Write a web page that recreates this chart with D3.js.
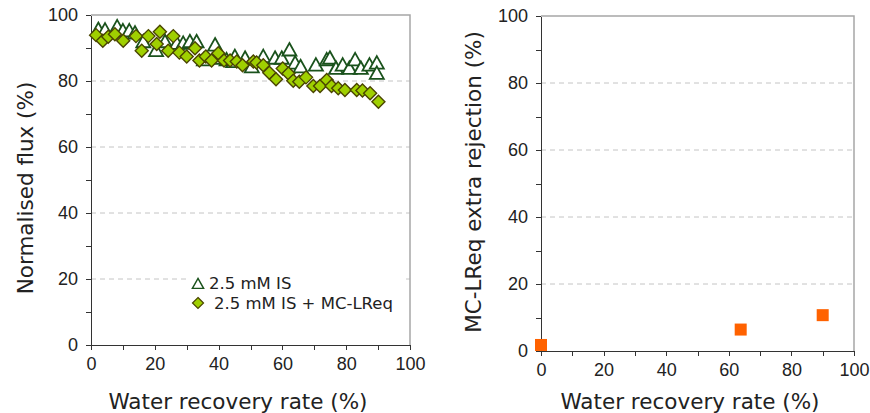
<!DOCTYPE html>
<html lang="en">
<head>
<meta charset="UTF-8">
<title>Normalised flux and extra rejection</title>
<script src="https://d3js.org/d3.v7.min.js"></script>
<style>
    body { margin: 0; background: #fff; }
    svg { display: block; font-family: "DejaVu Sans", Verdana, sans-serif; }
    .tick text { font-size: 18px; fill: #222; }
    .axis path, .axis line { stroke: #333; shape-rendering: crispEdges; }
</style>
</head>
<body>
<svg id="chart" width="870" height="413"></svg>
<script>
// 2.5 mM IS (open triangles)
const isX = [2.3, 4.4, 8.2, 10, 12, 13.8, 16.4, 20.4, 23.2, 26.9, 28.9, 31, 33.1, 35.4, 38.9, 40.4, 42.5, 44.6,
             45.1, 48.3, 50.4, 54, 57.7, 59.8, 62.2, 64, 65.7, 70.5, 73.9, 74.9, 76.8, 78.9, 81, 82.8, 84.6, 87.3, 89.6, 89.6];
const isY = [95.6, 95.4, 96.4, 95.2, 95.2, 94.5, 91.9, 89.2, 91.9, 91.4, 91.4, 91.9, 91.9, 86.4, 90.9, 86.9, 86.4, 85.9,
             87.4, 86.9, 84.3, 87.4, 86.9, 86.9, 89.4, 85.4, 84.3, 84.8, 86.4, 86.9, 83.8, 84.8, 83.8, 86.4, 83.8, 84.8, 85.4, 82.3];

// 2.5 mM IS + MC-LReq (diamonds)
const mcX = [1.6, 3.7, 5.4, 7.5, 10.1, 14.1, 15.9, 18, 20.6, 21.6, 24.2, 25.8, 27.7, 30, 32.6, 34, 36, 37.8, 39.9, 41.7, 43.6, 45.7,
             47.5, 50.9, 51.9, 54, 55.9, 58, 60.1, 61.9, 63.4, 65.3, 67.4, 69.7, 71.8, 73.9, 75.4, 77.5, 79.6, 83.3, 85.1, 87.5, 90.1];
const mcY = [93.9, 92.2, 93.4, 94.2, 92.2, 93.6, 89.2, 93.6, 91.2, 94.9, 89.2, 93.6, 88.6, 87.4, 89.9, 86.2, 87.4, 86.2, 88.4, 86.2, 86.2, 85.9,
             84.8, 85.9, 85.6, 84.8, 82.5, 80.5, 83.8, 82.3, 80.1, 79.8, 81.1, 78.5, 78.5, 80.3, 78.5, 77.8, 77.3, 77.3, 77.1, 76.3, 73.7];

// MC-LReq extra rejection (squares)
const rejX = [0, 63.8, 90];
const rejY = [1.8, 6.4, 10.7];

const tickVals = d3.range(0, 101, 10);
const gridVals = [20, 40, 60, 80];

const svg = d3.select("#chart");

function panel(x, y, xTitlePos, yTitlePos, yTitle) {
    const g = svg.append("g");
    const [x0, x1] = x.range();
    const [y0, y1] = y.range();

    // dashed gridlines
    g.selectAll(".grid").data(gridVals).enter().append("line")
        .attr("x1", x0).attr("x2", x1)
        .attr("y1", d => y(d)).attr("y2", d => y(d))
        .style("stroke", "#c4c4c4")
        .style("stroke-dasharray", "5,4");

    // light frame on top and right
    g.append("path")
        .attr("d", `M${x0},${y1}H${x1}V${y0}`)
        .style("fill", "none")
        .style("stroke", "#a6a6a6")
        .style("stroke-width", 1.5);

    const fmt = d => d % 20 === 0 ? d : "";

    g.append("g")
        .attr("class", "axis")
        .attr("transform", `translate(0,${y0})`)
        .call(d3.axisBottom(x).tickValues(tickVals).tickSize(5).tickSizeOuter(0).tickPadding(7).tickFormat(fmt));

    g.append("g")
        .attr("class", "axis")
        .attr("transform", `translate(${x0},0)`)
        .call(d3.axisLeft(y).tickValues(tickVals).tickSize(5).tickSizeOuter(0).tickPadding(8).tickFormat(fmt));

    g.append("text")
        .attr("x", xTitlePos[0]).attr("y", xTitlePos[1])
        .attr("text-anchor", "middle")
        .style("font-size", "21.5px").style("fill", "#222")
        .text("Water recovery rate (%)");

    g.append("text")
        .attr("transform", `translate(${yTitlePos[0]},${yTitlePos[1]}) rotate(-90)`)
        .attr("text-anchor", "middle")
        .attr("dy", "0.35em")
        .style("font-size", "21.5px").style("fill", "#222")
        .text(yTitle);
    return g;
}

const triPath = "M0,-7L7,5.5L-7,5.5Z";
const diaPath = "M0,-6.5L6.5,0L0,6.5L-6.5,0Z";

// left panel
const xL = d3.scaleLinear().domain([0, 100]).range([91, 410]);
const yL = d3.scaleLinear().domain([0, 100]).range([345, 15]);
const left = panel(xL, yL, [238, 409], [25, 188], "Normalised flux (%)");

left.selectAll(".tri").data(isX).enter().append("path")
    .attr("d", triPath)
    .attr("transform", (d, i) => `translate(${xL(d)},${yL(isY[i])})`)
    .style("fill", "#fff").style("stroke", "#1a521c").style("stroke-width", 1.8);

left.selectAll(".dia").data(mcX).enter().append("path")
    .attr("d", diaPath)
    .attr("transform", (d, i) => `translate(${xL(d)},${yL(mcY[i])})`)
    .style("fill", "#9fd000").style("stroke", "#4a4500").style("stroke-width", 1.4);

// legend
const leg = left.append("g");
leg.append("rect").attr("x", 187).attr("y", 268).attr("width", 217).attr("height", 46).style("fill", "#fff");
leg.append("path").attr("d", triPath).attr("transform", "translate(198,284) scale(0.8)")
    .style("fill", "#fff").style("stroke", "#1a521c").style("stroke-width", 1.8);
leg.append("path").attr("d", diaPath).attr("transform", "translate(198,303) scale(0.85)")
    .style("fill", "#9fd000").style("stroke", "#4a4500").style("stroke-width", 1.4);
leg.append("text").attr("x", 209).attr("y", 283).attr("dy", "0.35em")
    .style("font-size", "16.5px").style("fill", "#222").text("2.5 mM IS");
leg.append("text").attr("x", 214).attr("y", 303).attr("dy", "0.35em")
    .style("font-size", "16.5px").style("fill", "#222").text("2.5 mM IS + MC-LReq");

// right panel
const xR = d3.scaleLinear().domain([0, 100]).range([541, 854]);
const yR = d3.scaleLinear().domain([0, 100]).range([351, 16]);
const right = panel(xR, yR, [690, 409], [473, 182], "MC-LReq extra rejection (%)");

right.selectAll(".sq").data(rejX).enter().append("rect")
    .attr("x", d => xR(d) - 6)
    .attr("y", (d, i) => yR(rejY[i]) - 6)
    .attr("width", 12).attr("height", 12)
    .style("fill", "#ff6200");
</script>
</body>
</html>
